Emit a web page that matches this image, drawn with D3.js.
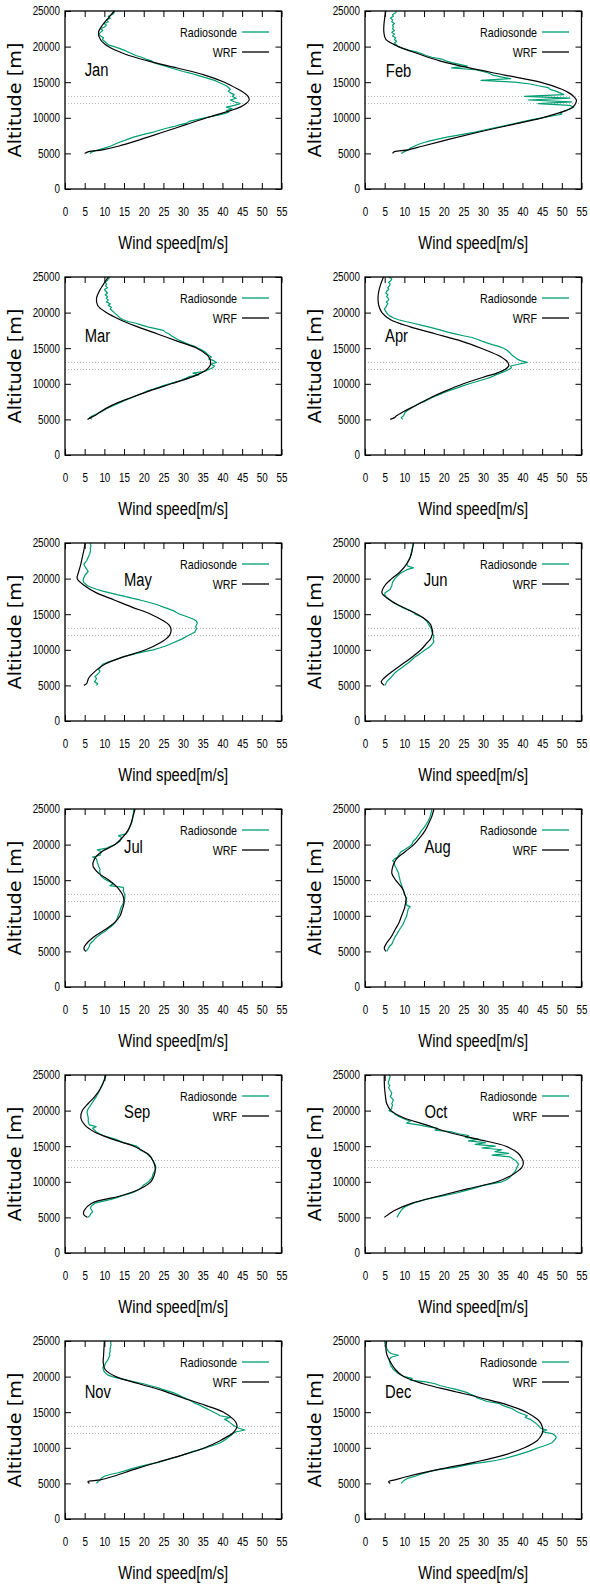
<!DOCTYPE html>
<html>
<head>
<meta charset="utf-8">
<script src="https://cdn.jsdelivr.net/npm/d3@7"></script>
<style>
  body { margin: 0; background: #fff; }
  svg { display: block; }
</style>
</head>
<body>
<div id="chart"></div>
<script>
const months = ["Jan", "Feb", "Mar", "Apr", "May", "Jun", "Jul", "Aug", "Sep", "Oct", "Nov", "Dec"];
const xTicks = [0, 5, 10, 15, 20, 25, 30, 35, 40, 45, 50, 55];
const yTicks = [0, 5000, 10000, 15000, 20000, 25000];
const refLevels = [12000, 13000];

// WRF profiles (m/s) at these altitudes (m)
const wrfAlt = [5000, 5250, 5500, 6000, 7000, 8000, 9000, 10000, 11000, 11500, 12000, 12500, 13000,
  13500, 14000, 15000, 16000, 17000, 18000, 19000, 20000, 21000, 22000, 23000, 24000, 25000];
const wrfSpeed = [
  [5.0, 6.0, 9.5, 13.5, 19.5, 25.0, 30.5, 36.0, 42.0, 44.5, 46.0, 46.8, 46.5, 45.5, 44.0, 40.5, 35.5, 28.5, 21.0, 15.0, 11.0, 9.0, 8.5, 9.5, 11.0, 12.5],
  [7.0, 7.5, 11.0, 14.5, 21.5, 29.0, 37.0, 45.0, 51.0, 52.8, 53.5, 53.7, 53.0, 51.8, 50.0, 44.5, 35.5, 26.5, 19.0, 13.5, 8.5, 5.3, 4.8, 4.8, 5.0, 5.3],
  [5.7, 6.5, 7.5, 8.8, 12.0, 16.5, 21.5, 27.0, 32.5, 34.5, 36.0, 36.8, 37.0, 36.8, 36.2, 33.5, 28.5, 23.5, 18.5, 14.0, 10.5, 8.3, 8.0, 8.7, 9.8, 11.0],
  [6.4, 7.5, 8.0, 9.5, 13.0, 16.5, 20.5, 25.0, 30.5, 33.5, 35.5, 36.5, 36.3, 35.3, 33.8, 29.5, 24.5, 18.0, 11.5, 6.5, 4.3, 3.5, 3.3, 3.5, 4.0, 4.7],
  [4.8, 5.5, 5.7, 6.0, 7.7, 10.2, 14.8, 20.5, 24.2, 25.6, 26.5, 26.9, 26.9, 26.4, 25.2, 21.8, 17.0, 12.5, 8.0, 5.0, 3.1, 3.5, 4.0, 4.4, 4.8, 5.1],
  [4.9, 4.4, 4.1, 4.8, 7.0, 9.5, 12.0, 14.2, 15.8, 16.6, 17.0, 17.2, 17.0, 16.7, 16.0, 13.3, 9.5, 6.3, 4.3, 5.0, 6.8, 9.0, 10.5, 11.5, 12.0, 12.3],
  [5.3, 4.9, 4.8, 5.3, 7.2, 10.0, 12.5, 14.0, 14.6, 14.9, 15.0, 14.9, 14.6, 14.0, 13.3, 11.2, 8.5, 7.1, 7.5, 9.3, 12.7, 14.6, 16.0, 16.8, 17.3, 17.8],
  [5.3, 5.0, 4.9, 5.3, 6.6, 7.6, 8.6, 9.3, 10.0, 10.2, 10.4, 10.4, 10.1, 9.8, 9.3, 7.8, 6.8, 7.1, 8.0, 10.2, 12.4, 14.0, 15.3, 16.2, 17.0, 17.5],
  [5.7, 5.0, 4.7, 4.9, 6.8, 14.0, 19.0, 21.8, 22.7, 22.9, 22.9, 22.7, 22.3, 21.8, 20.8, 17.5, 12.0, 7.5, 5.0, 4.0, 4.4, 5.9, 7.6, 8.9, 9.8, 10.4],
  [4.9, 5.5, 6.2, 7.6, 12.0, 18.8, 26.0, 33.5, 37.5, 38.8, 39.8, 40.2, 40.1, 39.6, 38.9, 35.8, 28.5, 21.0, 15.5, 9.8, 6.6, 5.5, 5.2, 5.0, 4.9, 4.9],
  [6.2, 5.8, 9.0, 12.3, 17.8, 23.7, 30.0, 35.5, 39.4, 41.0, 42.5, 43.3, 43.7, 43.5, 42.8, 40.3, 35.5, 30.0, 25.0, 18.8, 12.9, 10.2, 9.7, 9.8, 9.9, 10.0],
  [6.4, 6.0, 7.6, 11.0, 19.0, 28.0, 35.5, 40.5, 43.7, 44.5, 45.0, 45.2, 45.0, 44.6, 43.8, 41.0, 36.3, 29.5, 22.1, 14.8, 9.8, 7.7, 6.5, 5.6, 5.3, 5.5]
];

// Radiosonde profiles (m/s) at these altitudes (m)
const sondeAlt = [5000, 5250, 5500, 5750, 6000, 6250, 6500, 6750, 7000, 7250, 7500, 7750,
  8000, 8250, 8500, 8750, 9000, 9250, 9500, 9750, 10000, 10250, 10500, 10750,
  11000, 11250, 11500, 11750, 12000, 12250, 12500, 12750, 13000, 13250, 13500, 13750,
  14000, 14250, 14500, 14750, 15000, 15250, 15500, 15750, 16000, 16250, 16500, 16750,
  17000, 17250, 17500, 17750, 18000, 18250, 18500, 18750, 19000, 19250, 19500, 19750,
  20000, 20250, 20500, 20750, 21000, 21250, 21500, 21750, 22000, 22250, 22500, 22750,
  23000, 23250, 23500, 23750, 24000, 24250, 24500, 24750, 25000];
const sondeSpeed = [
  [6.3, 7.0, 8.5, 10.0, 11.5, 12.5, 13.5, 14.8, 16.0, 17.2, 18.8, 20.5, 22.5, 24.0, 25.5, 27.5,
   29.0, 31.0, 31.5, 33.5, 35.5, 38.0, 40.0, 41.5, 41.0, 42.5, 41.0, 43.0, 44.5, 43.0, 42.0, 43.5,
   42.5, 43.0, 42.0, 41.5, 42.0, 41.5, 41.0, 40.0, 39.0, 38.0, 36.5, 35.0, 33.5, 32.0, 30.0, 28.5,
   27.0, 25.5, 24.0, 22.5, 22.0, 20.5, 19.5, 18.0, 17.0, 16.0, 15.0, 13.8, 12.5, 11.0, 10.5, 10.0,
   9.5, 9.8, 9.0, 8.6, 9.0, 9.6, 9.0, 10.0, 10.5, 10.0, 11.0, 10.5, 11.5, 11.0, 12.0, 12.5, 12.5],
  [9.2, 10.0, 11.0, 11.5, 12.5, 13.5, 14.8, 16.5, 18.5, 20.5, 23.0, 25.5, 28.0, 30.0, 32.0, 34.5,
   36.5, 38.5, 40.5, 42.5, 45.0, 47.5, 50.0, 49.5, 51.0, 52.0, 53.0, 52.0, 44.0, 52.5, 41.5, 52.0,
   40.5, 50.5, 49.5, 48.5, 47.0, 46.5, 44.0, 42.0, 38.0, 29.5, 37.0, 34.5, 32.5, 31.5, 30.0, 28.0,
   22.0, 26.0, 24.0, 22.0, 20.5, 19.5, 17.0, 15.5, 14.5, 13.0, 11.0, 9.5, 8.5, 8.0, 7.5, 8.0,
   7.5, 7.8, 7.0, 7.5, 6.8, 7.5, 7.0, 7.2, 7.0, 7.5, 6.8, 7.0, 6.5, 7.2, 7.0, 7.8, 8.0],
  [6.8, 6.3, 7.0, 8.0, 9.0, 9.8, 10.5, 11.5, 12.5, 13.5, 14.5, 15.5, 16.8, 17.8, 19.0, 20.0,
   21.0, 22.5, 23.8, 25.0, 26.5, 28.0, 29.5, 30.5, 31.5, 34.0, 32.5, 35.5, 36.5, 37.5, 38.0, 37.0,
   38.5, 37.8, 36.5, 37.2, 36.5, 36.0, 35.5, 34.8, 33.8, 33.0, 31.5, 30.5, 29.5, 28.5, 27.8, 27.0,
   26.5, 25.5, 25.0, 23.0, 21.0, 19.5, 18.0, 16.0, 14.8, 14.0, 13.5, 13.0, 12.5, 12.0, 11.5, 11.8,
   11.0, 11.5, 10.5, 11.0, 10.5, 10.8, 10.2, 10.8, 10.4, 10.0, 10.8, 10.3, 10.6, 10.2, 10.8, 11.0, 11.4],
  [9.6, 9.2, 9.8, 10.0, 10.2, 10.8, 11.5, 12.2, 13.0, 13.8, 15.0, 16.0, 16.8, 17.8, 19.0, 20.0,
   21.2, 22.5, 23.8, 25.0, 26.5, 28.0, 29.5, 31.0, 32.3, 33.2, 34.4, 35.5, 36.5, 37.2, 37.0, 39.0,
   41.2, 39.5, 38.6, 38.0, 37.4, 37.0, 36.5, 36.0, 35.2, 34.0, 32.3, 31.0, 29.7, 28.5, 27.2, 25.0,
   22.9, 21.0, 19.5, 17.8, 16.1, 14.2, 12.3, 10.3, 8.5, 7.3, 6.4, 5.8, 5.5, 5.2, 4.9, 5.3,
   5.5, 5.8, 5.4, 6.0, 5.9, 5.5, 5.8, 5.3, 5.5, 6.0, 5.8, 6.2, 6.4, 6.0, 6.6, 6.8, 6.0],
  [8.0, 8.3, 7.5, 7.8, 8.0, 7.6, 8.2, 8.6, 8.9, 8.5, 9.0, 9.2, 9.7, 10.8, 12.3, 13.5,
   14.8, 16.5, 18.2, 20.2, 22.4, 24.0, 25.4, 26.5, 27.5, 28.6, 29.6, 30.5, 31.3, 32.2, 33.0, 33.2,
   33.4, 33.2, 33.4, 33.6, 33.4, 32.8, 31.7, 30.5, 29.2, 28.3, 27.5, 26.3, 25.0, 23.8, 22.4, 20.8,
   19.0, 17.0, 15.2, 13.2, 11.4, 9.6, 8.0, 6.8, 5.7, 5.2, 4.7, 4.6, 4.7, 4.9, 5.1, 5.5,
   5.9, 5.6, 5.3, 5.0, 4.8, 5.1, 5.5, 5.7, 5.9, 6.1, 6.3, 6.4, 6.5, 6.4, 6.6, 6.5, 6.5],
  [5.1, 5.3, 5.5, 5.9, 6.4, 6.8, 7.2, 7.6, 8.1, 8.7, 9.4, 10.0, 10.6, 11.2, 11.7, 12.2,
   12.7, 13.4, 14.1, 14.7, 15.3, 16.0, 16.6, 17.0, 17.4, 17.5, 17.3, 17.5, 17.4, 17.2, 17.0, 16.9,
   16.8, 16.5, 16.2, 16.0, 15.7, 15.2, 14.9, 13.8, 12.7, 12.3, 11.5, 10.3, 9.3, 8.4, 7.6, 7.0,
   6.4, 5.8, 5.3, 5.0, 5.1, 5.8, 6.4, 6.6, 6.8, 6.9, 7.0, 7.3, 7.6, 8.0, 8.5, 9.0,
   9.8, 10.6, 12.3, 10.9, 10.6, 10.8, 11.0, 11.3, 11.5, 11.6, 11.7, 11.8, 11.9, 12.0, 12.1, 12.2, 12.3],
  [5.3, 5.7, 6.0, 6.2, 6.3, 6.7, 7.2, 7.6, 8.0, 8.6, 9.3, 10.0, 10.6, 11.1, 11.7, 12.2,
   12.7, 13.0, 13.2, 13.3, 13.5, 13.7, 13.9, 14.0, 14.1, 14.3, 14.6, 14.8, 15.0, 15.1, 15.2, 15.2,
   15.2, 15.0, 14.8, 14.9, 14.8, 11.4, 12.3, 11.5, 10.6, 9.8, 9.3, 9.0, 8.9, 8.8, 8.9, 8.7,
   8.5, 8.4, 8.2, 8.1, 8.0, 7.0, 8.9, 9.0, 9.3, 8.2, 10.6, 11.6, 12.7, 13.4, 14.0, 14.2,
   14.4, 13.6, 15.5, 15.8, 16.1, 16.3, 16.5, 16.7, 16.9, 17.0, 17.1, 17.2, 17.2, 17.3, 17.4, 17.4, 17.5],
  [5.5, 5.8, 6.0, 6.3, 6.8, 7.0, 7.2, 7.4, 7.6, 7.9, 8.2, 8.4, 8.7, 9.0, 9.3, 9.6,
   9.8, 10.0, 10.2, 10.4, 10.6, 10.7, 10.8, 10.9, 11.0, 11.5, 10.6, 10.5, 10.4, 10.5, 10.6, 10.3,
   10.0, 9.9, 9.8, 9.6, 9.5, 9.3, 9.2, 9.0, 8.9, 8.8, 8.7, 8.6, 8.5, 8.3, 8.1, 7.9,
   7.6, 7.5, 7.5, 7.0, 7.6, 8.3, 8.5, 8.8, 9.2, 9.9, 10.6, 11.3, 11.9, 12.1, 12.3, 12.8,
   13.2, 13.5, 13.8, 14.1, 14.4, 14.8, 15.1, 15.4, 15.7, 16.0, 16.2, 16.4, 16.6, 16.7, 16.8, 16.9, 17.0],
  [5.9, 6.3, 6.5, 7.0, 6.8, 6.5, 6.6, 7.0, 7.6, 9.5, 11.4, 13.0, 14.4, 16.0, 17.3, 18.2,
   19.0, 19.5, 19.9, 20.6, 21.2, 21.6, 22.0, 22.2, 22.3, 22.5, 22.8, 23.0, 23.1, 23.0, 22.8, 22.6,
   22.3, 22.0, 21.6, 21.2, 20.7, 19.8, 19.0, 18.8, 18.2, 16.5, 14.8, 13.8, 12.7, 11.2, 9.7, 8.8,
   8.0, 7.5, 7.0, 7.9, 6.2, 6.0, 5.9, 5.9, 5.9, 5.8, 5.7, 5.6, 5.7, 5.9, 6.2, 6.5,
   6.8, 7.1, 7.4, 7.7, 8.0, 8.2, 8.5, 8.7, 8.9, 9.1, 9.3, 9.5, 9.7, 9.9, 10.1, 10.2, 10.4],
  [8.1, 8.4, 8.6, 8.9, 9.2, 9.6, 10.2, 11.2, 12.3, 13.8, 15.3, 17.2, 19.5, 21.8, 23.8, 25.5,
   27.2, 28.6, 30.1, 32.5, 34.8, 35.8, 36.5, 37.0, 37.4, 37.8, 38.2, 38.4, 38.6, 38.8, 39.0, 38.6,
   38.2, 37.5, 36.9, 32.3, 36.5, 33.0, 34.8, 29.7, 33.1, 28.0, 30.6, 26.3, 28.9, 25.5, 26.3, 23.8,
   22.1, 17.8, 18.5, 15.8, 13.6, 10.6, 11.5, 10.3, 9.3, 8.4, 7.6, 7.2, 6.1, 6.8, 6.8, 7.0,
   6.8, 7.0, 7.2, 6.8, 6.4, 6.7, 6.8, 6.5, 6.2, 6.0, 6.3, 6.0, 5.9, 6.1, 6.2, 6.4, 6.2],
  [8.0, 8.4, 8.9, 9.3, 10.0, 11.4, 13.5, 15.2, 16.6, 18.2, 19.9, 21.8, 24.1, 25.6, 27.0, 28.6,
   30.0, 31.3, 32.6, 34.2, 35.8, 37.2, 38.5, 39.6, 40.3, 41.0, 41.6, 42.2, 42.7, 43.5, 45.7, 44.2,
   43.3, 42.6, 42.0, 41.4, 40.5, 42.0, 39.4, 38.7, 37.8, 36.9, 36.0, 35.0, 34.2, 33.0, 32.3, 31.5,
   30.5, 29.5, 28.5, 27.5, 26.0, 24.6, 23.3, 21.5, 19.9, 17.6, 15.7, 13.8, 12.0, 10.8, 10.3, 9.9,
   9.8, 9.6, 10.0, 10.2, 10.4, 10.8, 11.0, 11.2, 11.4, 11.3, 11.5, 11.4, 11.5, 11.6, 11.7, 11.6, 11.7],
  [9.2, 9.6, 10.2, 11.0, 12.7, 14.0, 15.5, 17.0, 19.5, 22.9, 25.0, 27.2, 30.5, 33.5, 35.5, 37.2,
   38.8, 40.2, 41.6, 42.8, 44.0, 45.4, 46.6, 47.6, 48.0, 48.4, 48.6, 48.2, 47.5, 45.0, 46.2, 44.6,
   44.3, 43.8, 43.3, 42.6, 42.0, 40.7, 41.2, 40.0, 38.9, 38.1, 37.4, 36.0, 34.8, 34.0, 31.0, 29.8,
   28.5, 28.0, 26.8, 26.0, 24.5, 22.9, 20.8, 19.0, 17.8, 15.5, 11.5, 12.0, 10.0, 9.0, 8.3, 7.8,
   7.2, 6.9, 6.6, 6.4, 6.3, 6.2, 6.3, 6.8, 8.5, 6.6, 6.0, 5.7, 5.5, 5.4, 5.3, 5.1, 4.9]
];

// where each month name sits, in data units (speed, altitude)
const labelAt = [[5, 15900], [5.3, 15800], [5, 15900], [5.1, 15900], [15, 18900], [14.9, 18900],
  [15, 18850], [15.1, 18850], [15, 19000], [15.1, 19000], [5, 17000], [5.1, 17000]];

const seriesNames = ["Radiosonde", "WRF"];
const seriesColors = ["#009e73", "#000000"];

const W = 590, H = 1587;
const plotW = 216.5, plotH = 178;
const sans = '"Liberation Sans", Arial, sans-serif';

const svg = d3.select("#chart").append("svg")
    .attr("width", W)
    .attr("height", H)
    .style("background", "#fff");

const x = d3.scaleLinear().domain([0, 55]).range([0, plotW]);
const y = d3.scaleLinear().domain([0, 25000]).range([plotH, 0]);

function styleAxis(a) {
    a.select(".domain").remove();
    a.attr("font-family", sans).attr("font-size", 12);
    a.selectAll("line").attr("stroke", "#000");
    a.selectAll("text").attr("fill", "#000").classed("narrow", true);
}

const sondeLine = d3.line().x(d => x(d[1])).y(d => y(d[0]));
const wrfLine = d3.line().x(d => x(d[1])).y(d => y(d[0])).curve(d3.curveCatmullRom);

months.forEach((m, i) => {
    const col = i % 2, row = Math.floor(i / 2);
    const g = svg.append("g")
        .attr("transform", `translate(${65 + col * 300},${11 + row * 266})`);

    g.append("g").attr("transform", `translate(0,${plotH})`)
        .call(d3.axisBottom(x).tickValues(xTicks).tickSize(-6).tickPadding(18.5))
        .call(styleAxis);
    g.append("g")
        .call(d3.axisTop(x).tickValues(xTicks).tickSize(-6).tickFormat(""))
        .call(styleAxis);
    g.append("g")
        .call(d3.axisLeft(y).tickValues(yTicks).tickSize(-6).tickPadding(5).tickFormat(d3.format("d")))
        .call(styleAxis);
    g.append("g").attr("transform", `translate(${plotW},0)`)
        .call(d3.axisRight(y).tickValues(yTicks).tickSize(-6).tickFormat(""))
        .call(styleAxis);

    g.selectAll(".ref").data(refLevels).join("line")
        .attr("x1", 0).attr("x2", plotW)
        .attr("y1", d => y(d)).attr("y2", d => y(d))
        .attr("stroke", "#b4b4b4")
        .attr("stroke-dasharray", "1,2");

    g.append("path")
        .datum(d3.zip(sondeAlt, sondeSpeed[i]))
        .attr("d", sondeLine)
        .attr("fill", "none")
        .attr("stroke", seriesColors[0])
        .attr("stroke-width", 1.2)
        .attr("stroke-linejoin", "round");
    g.append("path")
        .datum(d3.zip(wrfAlt, wrfSpeed[i]))
        .attr("d", wrfLine)
        .attr("fill", "none")
        .attr("stroke", seriesColors[1])
        .attr("stroke-width", 1.2);

    g.append("rect")
        .attr("width", plotW).attr("height", plotH)
        .attr("fill", "none").attr("stroke", "#000").attr("stroke-width", 1.3);

    seriesNames.forEach((name, k) => {
        const ly = 21 + k * 20;
        g.append("text").classed("narrow", true)
            .attr("x", 172).attr("y", ly).attr("dy", "0.35em")
            .attr("text-anchor", "end")
            .attr("font-family", sans).attr("font-size", 13)
            .text(name);
        g.append("line")
            .attr("x1", 177).attr("x2", 204).attr("y1", ly).attr("y2", ly)
            .attr("stroke", seriesColors[k]).attr("stroke-width", 1.3);
    });

    g.append("text").classed("narrow", true)
        .attr("x", x(labelAt[i][0])).attr("y", y(labelAt[i][1]))
        .attr("font-family", sans).attr("font-size", 18)
        .text(m);

    g.append("text").classed("narrow", true)
        .attr("x", plotW / 2).attr("y", plotH + 60)
        .attr("text-anchor", "middle")
        .attr("font-family", sans).attr("font-size", 18)
        .text("Wind speed[m/s]");

    g.append("text")
        .attr("transform", `translate(-50,${plotH / 2}) rotate(-90)`)
        .attr("text-anchor", "middle").attr("dy", "0.35em")
        .attr("font-family", '"DejaVu Sans", sans-serif').attr("font-size", 17)
        .attr("textLength", 115).attr("lengthAdjust", "spacingAndGlyphs")
        .text("Altitude [m]");
});

// the source uses a narrow face: squeeze the regular one to the same width
svg.selectAll("text.narrow").each(function () {
    const w = this.getComputedTextLength();
    if (w > 0) d3.select(this).attr("textLength", w * 0.82).attr("lengthAdjust", "spacingAndGlyphs");
});
</script>
</body>
</html>
